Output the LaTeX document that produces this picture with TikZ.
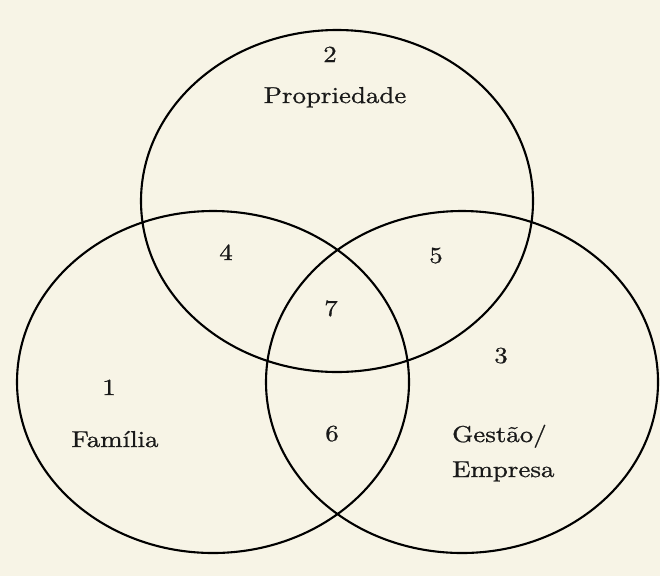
\documentclass[tikz,border=0pt]{standalone}
\usepackage{fontspec}
\usepackage{graphicx}
\usetikzlibrary{shapes.geometric}
\newfontfamily\tenfont[FakeBold=0.8]{lmroman10-regular.otf}
\definecolor{paper}{HTML}{F7F4E6}
\newcommand{\widetext}[1]{\scalebox{1.17}[1]{#1}}
\begin{document}
\begin{tikzpicture}[x=1pt,y=-1pt,
  setcircle/.style={ellipse, draw=black, line width=2.1pt, minimum width=392pt, minimum height=342pt, inner sep=0pt, outer sep=0pt},
  lbl/.style={font=\tenfont\fontsize{23}{26}\selectfont, text=black!90, inner sep=0pt, anchor=base}]
\fill[paper] (0,0) rectangle (660,576);
\useasboundingbox (0,0) rectangle (660,576);
\node[setcircle] (prop) at (337,201) {};
\node[setcircle] (fam) at (213,382) {};
\node[setcircle] (gest) at (462,382) {};
\node[lbl] (n2) at (330,62) {\widetext{2}};
\node[lbl] (tprop) at (335,103) {\widetext{Propriedade}};
\node[lbl] (n4) at (226,260) {\widetext{4}};
\node[lbl] (n5) at (436,263) {\widetext{5}};
\node[lbl] (n7) at (331,316) {\widetext{7}};
\node[lbl] (n3) at (501,363) {\widetext{3}};
\node[lbl] (n1) at (109,395) {\widetext{1}};
\node[lbl] (n6) at (332,441) {\widetext{6}};
\node[lbl] (tfam) at (115,447) {\widetext{Família}};
\node[lbl, anchor=base west] (tgest) at (452,442) {\widetext{Gestão/}};
\node[lbl, anchor=base west] (temp) at (452,477) {\widetext{Empresa}};
\end{tikzpicture}
\end{document}
